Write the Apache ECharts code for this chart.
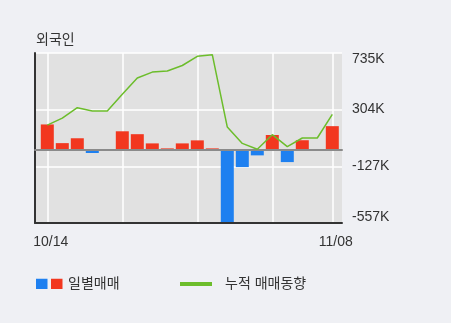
<!DOCTYPE html>
<html>
<head>
<meta charset="utf-8">
<script src="https://cdn.jsdelivr.net/npm/echarts@6/dist/echarts.min.js"></script>
<style>
html,body{margin:0;padding:0;background:#eff0f4;}
#c{width:451px;height:323px;}
</style>
</head>
<body>
<div id="c"></div>
<script>
// ---- data (values in thousands of shares) ----
const dates = ['10/14','10/15','10/16','10/17','10/18','10/21','10/22','10/23','10/24','10/25',
               '10/28','10/29','10/30','10/31','11/01','11/04','11/05','11/06','11/07','11/08'];
const dailyNet = [192, 50, 87, -25, 0, 140, 118, 48, 10, 48,
                  71, 10, -550, -132, -43, 112, -94, 72, 0, 179];
const cumulative = [187, 240, 319, 294, 294, 422, 545, 590, 598, 640,
                    710, 722, 172, 48, 3, 114, 24, 89, 89, 268];
const tickLabels = ['-557K', '-127K', '304K', '735K'];
const yMin = -557, yMax = 735, yStep = 431;
const shownDateIdx = [0, 19];
const splitIdx = [0, 5, 10, 15, 19];

const RED = '#f2371f', BLUE = '#1e80f0', GREEN = '#6cbd2b';
const FONT = '"Liberation Sans", "Noto Sans CJK KR", sans-serif';

const svg = '<svg xmlns="http://www.w3.org/2000/svg" width="27" height="11">' +
  '<rect x="0" y="0" width="11.5" height="11" fill="' + BLUE + '"/>' +
  '<rect x="15" y="0" width="11.5" height="11" fill="' + RED + '"/></svg>';
const barIcon = 'image://data:image/svg+xml;charset=utf-8,' + encodeURIComponent(svg);

const chart = echarts.init(document.getElementById('c'), null, {renderer: 'canvas'});
chart.setOption({
  animation: false,
  backgroundColor: '#eff0f4',
  textStyle: {fontFamily: FONT},
  title: {
    text: '외국인', left: 36, top: 33, padding: 0,
    textStyle: {fontSize: 14, fontWeight: 'normal', color: '#333', fontFamily: FONT}
  },
  legend: [
    {
      left: 36, top: 277, padding: 0, itemWidth: 27, itemHeight: 11,
      data: [{name: '일별매매', icon: barIcon}],
      textStyle: {fontSize: 14, color: '#333', fontFamily: FONT},
      selectedMode: false
    },
    {
      left: 180, top: 277, padding: 0, itemWidth: 32, itemHeight: 4,
      data: [{name: '누적 매매동향', icon: 'rect', itemStyle: {color: GREEN}}],
      textStyle: {fontSize: 14, color: '#333', fontFamily: FONT, padding: [0, 0, 0, 8]},
      selectedMode: false
    }
  ],
  grid: [
    {left: 35, right: 109, top: 53, bottom: 100, show: true, backgroundColor: '#e1e1e1', borderWidth: 0},
    {left: 47.3, right: 118.7, top: 53, bottom: 100}
  ],
  xAxis: [
    {gridIndex: 0, type: 'value', min: 0, max: 1, position: 'bottom',
     axisLine: {show: true, onZero: false, lineStyle: {color: '#333', width: 2}},
     axisTick: {show: false}, axisLabel: {show: false}, splitLine: {show: false}},
    {gridIndex: 0, type: 'value', min: 0, max: 1, position: 'top', z: 3,
     axisLine: {show: true, onZero: true, lineStyle: {color: '#8a8a8a', width: 2}},
     axisTick: {show: false}, axisLabel: {show: false}, splitLine: {show: false}},
    {gridIndex: 1, type: 'category', data: dates, boundaryGap: false,
     axisLine: {show: false}, axisTick: {show: false},
     axisLabel: {interval: (i) => shownDateIdx.indexOf(i) >= 0, margin: 12,
                 fontSize: 14, color: '#333', fontFamily: FONT, padding: [0, 0, 0, 7]},
     splitLine: {show: true, interval: (i) => splitIdx.indexOf(i) >= 0,
                 lineStyle: {color: '#ffffff', width: 1.5}}}
  ],
  yAxis: [
    {gridIndex: 0, type: 'value', min: yMin, max: yMax, interval: yStep, position: 'left',
     axisLine: {show: true, lineStyle: {color: '#333', width: 2}},
     axisTick: {show: false}, axisLabel: {show: false},
     splitLine: {show: true, lineStyle: {color: '#ffffff', width: 1.5}}},
    {gridIndex: 0, type: 'value', min: yMin, max: yMax, interval: yStep, position: 'right',
     axisLine: {show: false}, axisTick: {show: false}, splitLine: {show: false},
     axisLabel: {
       margin: 10, fontSize: 14, color: '#333', fontFamily: FONT,
       formatter: function (v, i) {
         const t = tickLabels[i] || '';
         if (i === 0) return '{bot|' + t + '}';
         if (i === tickLabels.length - 1) return '{top|' + t + '}';
         return '{mid|' + t + '}';
       },
       rich: {
         top: {padding: [12, 0, 0, 0], fontSize: 14, color: '#333', fontFamily: FONT},
         bot: {padding: [0, 0, 12, 0], fontSize: 14, color: '#333', fontFamily: FONT},
         mid: {fontSize: 14, color: '#333', fontFamily: FONT}
       }
     }},
    {gridIndex: 1, type: 'value', min: yMin, max: yMax, interval: yStep, show: false}
  ],
  series: [
    {
      name: '일별매매', type: 'bar', xAxisIndex: 2, yAxisIndex: 2,
      data: dailyNet, barWidth: 13, clip: false, z: 2,
      itemStyle: {color: (p) => p.value >= 0 ? RED : BLUE}
    },
    {
      name: '누적 매매동향', type: 'line', xAxisIndex: 2, yAxisIndex: 2,
      data: cumulative, symbol: 'none', showSymbol: false, clip: false, z: 5,
      color: GREEN, lineStyle: {color: GREEN, width: 1.5}
    }
  ]
});
</script>
</body>
</html>
